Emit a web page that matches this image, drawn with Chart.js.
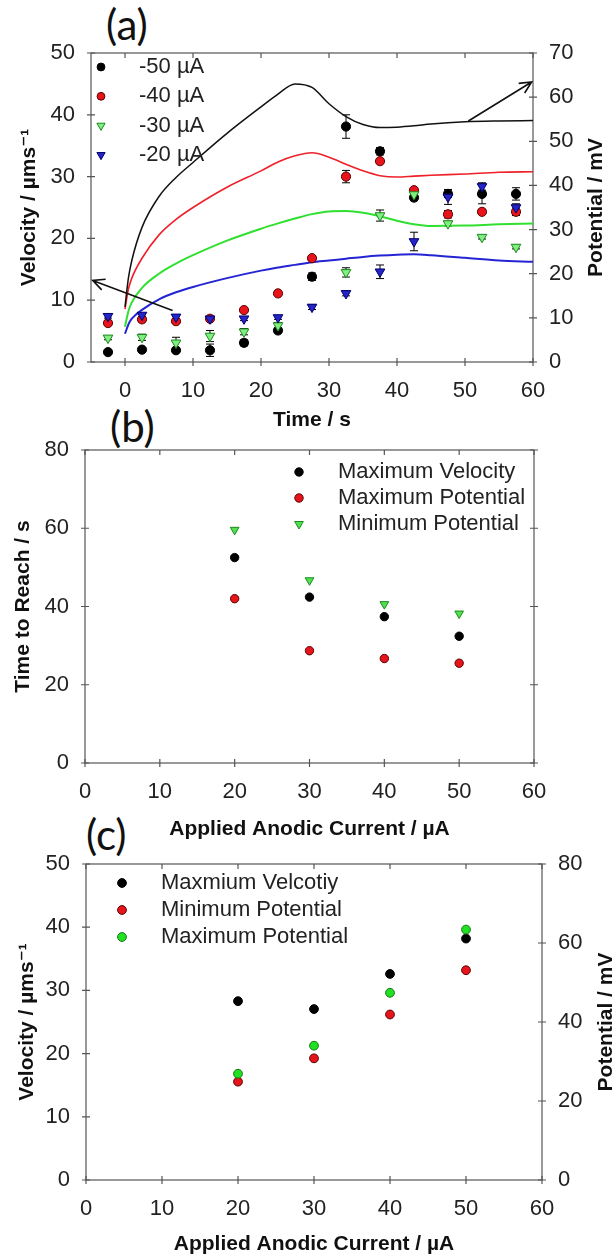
<!DOCTYPE html>
<html>
<head>
<meta charset="utf-8">
<script src="https://cdn.jsdelivr.net/npm/chart.js@4.4.0/dist/chart.umd.min.js"></script>
<style>
  body { margin: 0; background: #fff; width: 613px; height: 1257px; position: relative; overflow: hidden; }
  canvas { position: absolute; left: 0; }
  .tag { position: absolute; font-family: Lato, "Open Sans", sans-serif; font-size: 42px; line-height: 1; color: #111; }
</style>
</head>
<body>
<div class="tag" style="left:106px; top:3px">(a)</div>
<div class="tag" style="left:110px; top:405px">(b)</div>
<div class="tag" style="left:86px; top:813px">(c)</div>
<canvas id="chartA" width="613" height="440" style="top:0px"></canvas>
<canvas id="chartB" width="613" height="425" style="top:420px"></canvas>
<canvas id="chartC" width="613" height="427" style="top:830px"></canvas>
<script>
// ---- panel (a): velocity points (left axis) and potential curves (right axis) ----
const timeA = [-2.5, 2.5, 7.5, 12.5, 17.5, 22.5, 27.5, 32.5, 37.5, 42.5, 47.5, 52.5, 57.5];
const vel50 = [1.6, 2.0, 1.9, 1.9, 3.1, 5.1, 13.8, 38.1, 34.1, 26.6, 27.2, 27.2, 27.2];
const err50 = [0.3, 0.3, 0.3, 1.0, 0.5, 0.4, 0.6, 1.9, 0.6, 0.5, 0.6, 1.6, 1.0];
const vel40 = [6.3, 6.9, 6.6, 7.0, 8.4, 11.1, 16.8, 30.0, 32.5, 27.8, 23.9, 24.3, 24.3];
const err40 = [0.4, 0.4, 0.3, 0.4, 0.3, 0.3, 0.4, 1.0, 0.3, 0.4, 0.6, 0.4, 0.6];
const vel30 = [3.9, 4.0, 3.1, 4.2, 4.9, 5.9, null, 14.5, 23.7, 27.1, 22.4, 20.2, 18.6];
const err30 = [0.3, 0.5, 0.9, 0.9, 0.5, 0.5, null, 0.75, 0.9, 0.6, 0.4, 0.3, 0.3];
const vel20 = [7.4, 7.6, 7.3, 7.0, 7.0, 7.2, 8.9, 11.1, 14.6, 19.5, 26.7, 28.4, 25.0];
const err20 = [0.3, 0.3, 0.3, 0.3, 0.3, 0.3, 0.4, 0.4, 1.1, 1.5, 1.2, 0.6, 0.6];

const curveTime = [0, 0.5, 1, 2.5, 5, 7.5, 10, 15, 20, 22.5, 25, 27.5, 30, 32.5, 35, 37.5, 40, 42.5, 45, 50, 55, 60];
const pot50 = [12.5, 19, 23, 30.5, 37.5, 41.8, 45.2, 51.8, 57.8, 60.7, 63.0, 62.2, 58.5, 55.6, 53.8, 53.1, 53.2, 53.5, 53.9, 54.4, 54.6, 54.7];
const pot40 = [12, 16.5, 19, 23.5, 28.8, 32.3, 35, 39.6, 43.3, 45.3, 46.7, 47.4, 46.4, 44.8, 43.3, 42.2, 41.9, 42.1, 42.3, 42.6, 43, 43.1];
const pot30 = [8, 11.5, 13.5, 16.8, 20, 22.3, 24.2, 27.5, 30.2, 31.4, 32.5, 33.5, 34.1, 34.2, 33.8, 33.0, 32.0, 31.2, 30.8, 30.9, 31.2, 31.4];
const pot20 = [6.4, 8.5, 9.8, 11.8, 14.2, 15.8, 17, 19, 20.7, 21.4, 22, 22.6, 23, 23.4, 23.8, 24.1, 24.3, 24.4, 24.2, 23.6, 23.0, 22.7];

// arrows in panel (a), in data units of x / left axis
const arrowsA = [
  { from: [7, 8.35], to: [-4.75, 13.2] },
  { from: [50.5, 39.0], to: [59.8, 45.3] }
];

// tick labels
const xTicksA = [0, 10, 20, 30, 40, 50, 60];
const xTicksBC = [0, 10, 20, 30, 40, 50, 60];

// ---- panel (b) ----
const currentB = [20, 30, 40, 50];
const tMaxVel = [52.5, 42.4, 37.4, 32.4];
const tMaxPot = [42.0, 28.7, 26.7, 25.5];
const tMinPot = [59.6, 46.7, 40.6, 38.2];

// ---- panel (c) ----
const currentC = [20, 30, 40, 50];
const maxVelC = [28.3, 27.05, 32.6, 38.2];
const minPotC = [24.9, 30.8, 41.9, 53.1];
const maxPotC = [26.9, 34.0, 47.4, 63.4];

const FONT = '"Liberation Sans", Arial, "DejaVu Sans", sans-serif';
Chart.defaults.font.family = FONT;
Chart.defaults.color = '#222';
Chart.defaults.animation = false;

function pts(xs, ys, errs) {
  return xs.map((x, i) => ({ x: x, y: ys[i], e: errs ? errs[i] : 0 })).filter(p => p.y !== null);
}

// frame with ticks on all four sides
const framePlugin = {
  id: 'frame',
  beforeDatasetsDraw(chart) {
    const { ctx, chartArea: a, scales } = chart;
    const t = 4;
    ctx.save();
    ctx.strokeStyle = '#555';
    ctx.lineWidth = 1.2;
    ctx.strokeRect(a.left, a.top, a.right - a.left, a.bottom - a.top);
    ctx.beginPath();
    scales.x.ticks.forEach(tk => {
      const px = scales.x.getPixelForValue(tk.value);
      ctx.moveTo(px, a.bottom - t); ctx.lineTo(px, a.bottom + t);
      ctx.moveTo(px, a.top); ctx.lineTo(px, a.top + t + 1);
    });
    const yl = scales.y, yr = scales.y2 || scales.y;
    yl.ticks.forEach(tk => {
      const py = yl.getPixelForValue(tk.value);
      ctx.moveTo(a.left - t, py); ctx.lineTo(a.left + t, py);
    });
    yr.ticks.forEach(tk => {
      const py = yr.getPixelForValue(tk.value);
      ctx.moveTo(a.right - t, py); ctx.lineTo(a.right + t, py);
    });
    ctx.stroke();
    ctx.restore();
  }
};

const errorBarPlugin = {
  id: 'errorBars',
  beforeDatasetsDraw(chart) {
    const { ctx } = chart;
    ctx.save();
    ctx.strokeStyle = '#000';
    ctx.lineWidth = 1;
    ctx.beginPath();
    chart.data.datasets.forEach((ds, i) => {
      if (!ds.errorBars) return;
      const ys = chart.scales[chart.getDatasetMeta(i).yAxisID];
      ds.data.forEach(p => {
        if (!p.e) return;
        const px = chart.scales.x.getPixelForValue(p.x);
        const top = ys.getPixelForValue(p.y + p.e);
        const bot = ys.getPixelForValue(p.y - p.e);
        ctx.moveTo(px, top); ctx.lineTo(px, bot);
        ctx.moveTo(px - 4, top); ctx.lineTo(px + 4, top);
        ctx.moveTo(px - 4, bot); ctx.lineTo(px + 4, bot);
      });
    });
    ctx.stroke();
    ctx.restore();
  }
};

function marker(ctx, ds, r, x, y) {
  ctx.fillStyle = ds.backgroundColor;
  ctx.strokeStyle = ds.borderColor;
  ctx.lineWidth = ds.borderWidth;
  if (Chart.helpers && Chart.helpers.drawPoint) {
    Chart.helpers.drawPoint(ctx, { pointStyle: ds.pointStyle, rotation: ds.rotation || 0, radius: r, borderWidth: ds.borderWidth }, x, y);
  } else {
    ctx.beginPath(); ctx.arc(x, y, r, 0, Math.PI * 2); ctx.fill(); ctx.stroke();
  }
}

const legendPlugin = {
  id: 'panelLegend',
  afterDatasetsDraw(chart, args, opts) {
    if (!opts.items) return;
    const { ctx } = chart;
    ctx.save();
    ctx.font = '22px ' + FONT;
    ctx.textBaseline = 'middle';
    opts.items.forEach((idx, k) => {
      const ds = chart.data.datasets[idx];
      const y = opts.y + k * opts.dy;
      marker(ctx, ds, ds.pointRadius * (opts.scale || 1), opts.x, y);
      ctx.fillStyle = '#222';
      ctx.fillText(ds.label, opts.textX, y);
    });
    ctx.restore();
  }
};

// right-hand axis title reading bottom to top
const rightTitlePlugin = {
  id: 'rightTitle',
  afterDraw(chart, args, opts) {
    if (!opts.text) return;
    const { ctx, chartArea: a } = chart;
    ctx.save();
    ctx.font = 'bold 21px ' + FONT;
    ctx.fillStyle = '#111';
    ctx.textAlign = 'center';
    ctx.textBaseline = 'middle';
    ctx.translate(opts.x, (a.top + a.bottom) / 2);
    ctx.rotate(-Math.PI / 2);
    ctx.fillText(opts.text, 0, 0);
    ctx.restore();
  }
};

const arrowPlugin = {
  id: 'arrows',
  afterDatasetsDraw(chart, args, opts) {
    if (!opts.list) return;
    const { ctx, scales } = chart;
    ctx.save();
    ctx.strokeStyle = '#111';
    ctx.lineWidth = 1.6;
    opts.list.forEach(ar => {
      const x1 = scales.x.getPixelForValue(ar.from[0]), y1 = scales.y.getPixelForValue(ar.from[1]);
      const x2 = scales.x.getPixelForValue(ar.to[0]), y2 = scales.y.getPixelForValue(ar.to[1]);
      const ang = Math.atan2(y2 - y1, x2 - x1), h = 13, spread = 0.45;
      ctx.beginPath();
      ctx.moveTo(x1, y1); ctx.lineTo(x2, y2);
      ctx.moveTo(x2 - h * Math.cos(ang - spread), y2 - h * Math.sin(ang - spread));
      ctx.lineTo(x2, y2);
      ctx.lineTo(x2 - h * Math.cos(ang + spread), y2 - h * Math.sin(ang + spread));
      ctx.stroke();
    });
    ctx.restore();
  }
};

const tickFont = { size: 22, family: FONT };
const titleFont = { size: 21, weight: 'bold', family: FONT };

function axisX(min, max, tickVals, h, titleText, padBottom) {
  return {
    type: 'linear', position: 'bottom', min: min, max: max,
    ticks: { padding: 16, font: tickFont, color: '#222', maxRotation: 0, autoSkip: false },
    grid: { display: false, drawTicks: false }, border: { display: false },
    title: { display: true, text: titleText, font: titleFont, color: '#111', padding: { top: 0, bottom: padBottom } },
    afterBuildTicks: s => { s.ticks = tickVals.map(v => ({ value: v })); },
    afterFit: s => { s.height = h; }
  };
}
function axisY(pos, max, step, w, titleText, padTop) {
  const o = {
    type: 'linear', position: pos, min: 0, max: max,
    ticks: { stepSize: step, padding: 16, font: tickFont, color: '#222' },
    grid: { display: false, drawTicks: false }, border: { display: false },
    afterFit: s => { s.width = w; }
  };
  if (titleText) o.title = { display: true, text: titleText, font: titleFont, color: '#111', padding: { top: padTop, bottom: 0 } };
  return o;
}

// ---------- chart A ----------
const black = { backgroundColor: '#000', borderColor: '#000', borderWidth: 1, pointStyle: 'circle' };
const red = { backgroundColor: '#e8141c', borderColor: '#5a0000', borderWidth: 1, pointStyle: 'circle' };
const greenTri = { backgroundColor: '#80ee80', borderColor: '#1a8a1a', borderWidth: 1, pointStyle: 'triangle', rotation: 180 };
const blueTri = { backgroundColor: '#2424c8', borderColor: '#00006a', borderWidth: 1, pointStyle: 'triangle', rotation: 180 };

function curve(ys, color, width) {
  return {
    data: pts(curveTime, ys), yAxisID: 'y2', showLine: true, pointRadius: 0,
    borderColor: color, borderWidth: width, cubicInterpolationMode: 'monotone', order: 10
  };
}

new Chart(document.getElementById('chartA'), {
  type: 'scatter',
  data: {
    datasets: [
      Object.assign({ label: '-50 \u00b5A', data: pts(timeA, vel50, err50), pointRadius: 4.6, order: 4, errorBars: true }, black),
      Object.assign({ label: '-40 \u00b5A', data: pts(timeA, vel40, err40), pointRadius: 4.6, order: 3, errorBars: true }, red),
      Object.assign({ label: '-30 \u00b5A', data: pts(timeA, vel30, err30), pointRadius: 5.6, order: 2, errorBars: true }, greenTri),
      Object.assign({ label: '-20 \u00b5A', data: pts(timeA, vel20, err20), pointRadius: 5.6, order: 1, errorBars: true }, blueTri),
      curve(pot50, '#111', 1.5),
      curve(pot40, '#ee2028', 1.6),
      curve(pot30, '#30e030', 2),
      curve(pot20, '#2424d4', 2)
    ]
  },
  options: {
    responsive: false,
    layout: { padding: { top: 53, left: 0, right: 0, bottom: 0 } },
    scales: {
      x: axisX(-5, 60, xTicksA, 78, 'Time / s', 7),
      y: axisY('left', 50, 10, 91, 'Velocity / \u00b5ms\u207b\u00b9', 17),
      y2: axisY('right', 70, 10, 80, null, 0)
    },
    plugins: {
      legend: { display: false }, tooltip: { enabled: false },
      panelLegend: { items: [0, 1, 2, 3], x: 101, textX: 139, y: 67, dy: 29.3, scale: 0.85 },
      rightTitle: { text: 'Potential / mV', x: 596 },
      arrows: { list: arrowsA }
    }
  },
  plugins: [framePlugin, errorBarPlugin, legendPlugin, rightTitlePlugin, arrowPlugin]
});

// ---------- chart B ----------
new Chart(document.getElementById('chartB'), {
  type: 'scatter',
  data: {
    datasets: [
      Object.assign({ label: 'Maximum Velocity', data: pts(currentB, tMaxVel), pointRadius: 4.2, order: 3 }, black),
      Object.assign({ label: 'Maximum Potential', data: pts(currentB, tMaxPot), pointRadius: 4.2, order: 2 }, red),
      Object.assign({ label: 'Minimum Potential', data: pts(currentB, tMinPot), pointRadius: 5, order: 1 },
        greenTri, { backgroundColor: '#50e050' })
    ]
  },
  options: {
    responsive: false,
    layout: { padding: { top: 30, left: 0, right: 79, bottom: 0 } },
    scales: {
      x: axisX(0, 60, xTicksBC, 82, 'Applied Anodic Current / \u00b5A', 3.4),
      y: axisY('left', 80, 20, 85, 'Time to Reach / s', 11)
    },
    plugins: {
      legend: { display: false }, tooltip: { enabled: false },
      panelLegend: { items: [0, 1, 2], x: 299, textX: 338, y: 52, dy: 26, scale: 1 }
    }
  },
  plugins: [framePlugin, legendPlugin]
});

// ---------- chart C ----------
new Chart(document.getElementById('chartC'), {
  type: 'scatter',
  data: {
    datasets: [
      Object.assign({ label: 'Maxmium Velcotiy', data: pts(currentC, maxVelC), pointRadius: 4.4, order: 3, yAxisID: 'y' }, black),
      Object.assign({ label: 'Minimum Potential', data: pts(currentC, minPotC), pointRadius: 4.4, order: 2, yAxisID: 'y2' }, red),
      Object.assign({ label: 'Maximum Potential', data: pts(currentC, maxPotC), pointRadius: 4.4, order: 1, yAxisID: 'y2' },
        { backgroundColor: '#22e022', borderColor: '#127812', borderWidth: 1, pointStyle: 'circle' })
    ]
  },
  options: {
    responsive: false,
    layout: { padding: { top: 34, left: 0, right: 0, bottom: 0 } },
    scales: {
      x: axisX(0, 60, xTicksBC, 77, 'Applied Anodic Current / \u00b5A', 0.4),
      y: axisY('left', 50, 10, 86, 'Velocity / \u00b5ms\u207b\u00b9', 15),
      y2: axisY('right', 80, 20, 71, null, 0)
    },
    plugins: {
      legend: { display: false }, tooltip: { enabled: false },
      panelLegend: { items: [0, 1, 2], x: 122, textX: 161, y: 53, dy: 27, scale: 1 },
      rightTitle: { text: 'Potential / mV', x: 606 }
    }
  },
  plugins: [framePlugin, legendPlugin, rightTitlePlugin]
});
</script>
</body>
</html>
